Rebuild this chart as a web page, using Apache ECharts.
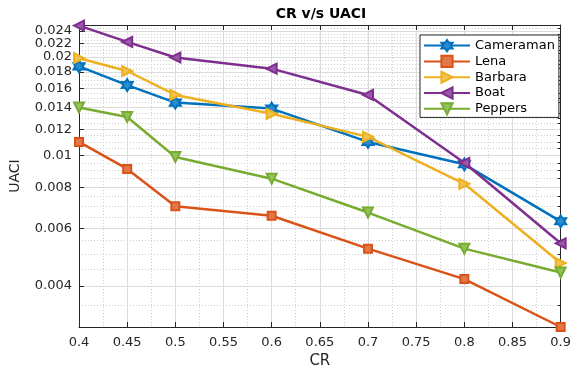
<!DOCTYPE html>
<html>
<head>
<meta charset="utf-8">
<title>CR v/s UACI</title>
<script src="https://cdn.jsdelivr.net/npm/echarts@6/dist/echarts.min.js"></script>
<style>
  html, body { margin: 0; padding: 0; background: #fff; }
  #chart { width: 574px; height: 374px; }
</style>
</head>
<body>
<div id="chart"></div>
<script>
// Compression ratio on the x axis
const crValues = [0.4, 0.45, 0.5, 0.6, 0.7, 0.8, 0.9];

// UACI per test image
const cameraman = [0.0187, 0.0164, 0.0145, 0.0139, 0.0110, 0.0094, 0.0063];
const lena      = [0.0110, 0.0091, 0.0070, 0.00655, 0.0052, 0.0042, 0.0030];
const barbara   = [0.0198, 0.0181, 0.0153, 0.0134, 0.0114, 0.0082, 0.0047];
const boat      = [0.0249, 0.0222, 0.0199, 0.0184, 0.0153, 0.0095, 0.0054];
const peppers   = [0.0140, 0.0131, 0.0099, 0.0085, 0.0067, 0.0052, 0.0044];

const seriesNames = ['Cameraman', 'Lena', 'Barbara', 'Boat', 'Peppers'];

// Labelled ticks on the logarithmic UACI axis
const yMajorTicks = [0.004, 0.006, 0.008, 0.01, 0.012, 0.014, 0.016, 0.018, 0.02, 0.022, 0.024];
// Dotted minor grid values
const yMinorTicks = [0.0035, 0.0045, 0.005, 0.0055, 0.0065, 0.007, 0.0075, 0.0085, 0.009, 0.0095,
  0.0105, 0.011, 0.0115, 0.0125, 0.013, 0.0135, 0.0145, 0.015, 0.0155, 0.0165, 0.017, 0.0175,
  0.0185, 0.019, 0.0195, 0.0205, 0.021, 0.0215, 0.0225, 0.023, 0.0235, 0.0245];

const colors = ['#0072BD', '#D95319', '#EDB120', '#7E2F8E', '#77AC30'];
const hexagram = 'path://M0,-10L2.887,-5L8.66,-5L5.774,0L8.66,5L2.887,5L0,10L-2.887,5L-8.66,5L-5.774,0L-8.66,-5L-2.887,-5Z';
const markers = [
  { symbol: hexagram, size: [11, 12], rotate: 0 },
  { symbol: 'rect', size: 8, rotate: 0 },
  { symbol: 'triangle', size: 10, rotate: -90 },
  { symbol: 'triangle', size: 10, rotate: 90 },
  { symbol: 'triangle', size: 10, rotate: 180 }
];
const fills = ['#2f8ccc', '#e2784a', '#f1c24f', '#9a58a8', '#92c25a'];
const seriesData = [cameraman, lena, barbara, boat, peppers];

const FONT = 'DejaVu Sans';
const INK = '#262626';

const chart = echarts.init(document.getElementById('chart'), null, { renderer: 'canvas' });

const yRange = { min: 0.003, max: 0.025 };
// The axis top also gets a (blank) label slot so the closely spaced
// 0.022 / 0.024 labels are both kept by the min/max label check.
const yLabelValues = yMajorTicks.concat([yRange.max]);

const option = {
  animation: false,
  backgroundColor: '#ffffff',
  color: colors,
  graphic: [{
    type: 'text',
    x: 321,
    y: 14,
    style: {
      text: 'CR v/s UACI',
      font: 'bold 14px "DejaVu Sans"',
      fill: '#000',
      align: 'center',
      verticalAlign: 'middle'
    }
  }],
  grid: { left: 77, right: 9, top: 25, bottom: 45, show: false },
  legend: {
    orient: 'vertical',
    left: 420,
    top: 35,
    padding: [4, 4, 2, 3],
    itemGap: 2.6,
    itemWidth: 46,
    itemHeight: 14,
    backgroundColor: '#ffffff',
    borderColor: INK,
    borderWidth: 1,
    borderRadius: 0,
    textStyle: { fontFamily: FONT, fontSize: 13, color: '#000' },
    data: seriesNames
  },
  xAxis: [{
    type: 'value',
    min: 0.4,
    max: 0.9,
    interval: 0.05,
    name: 'CR',
    nameLocation: 'middle',
    nameGap: 27,
    nameTextStyle: { fontFamily: FONT, fontSize: 15, color: INK },
    axisLine: { show: true, lineStyle: { color: INK, width: 1 } },
    axisTick: { show: true, inside: true, length: 5, lineStyle: { color: INK } },
    axisLabel: { fontFamily: FONT, fontSize: 13, color: INK, margin: 9 },
    splitLine: { show: true, lineStyle: { color: '#dcdcdc', width: 1 } },
    minorTick: { show: false, splitNumber: 2 },
    minorSplitLine: { show: true, lineStyle: { color: '#cfcfcf', type: [1, 2], width: 1 } }
  }, {
    type: 'value',
    position: 'top',
    min: 0.4,
    max: 0.9,
    interval: 0.05,
    axisLine: { show: true, lineStyle: { color: INK, width: 1 } },
    axisTick: { show: true, inside: true, length: 5, lineStyle: { color: INK } },
    axisLabel: { show: false },
    splitLine: { show: false }
  }],
  yAxis: [{
    type: 'log',
    logBase: 10,
    min: yRange.min,
    max: yRange.max,
    name: 'UACI',
    nameLocation: 'middle',
    nameGap: 57,
    nameTextStyle: { fontFamily: FONT, fontSize: 14, color: INK },
    axisLine: { show: true, lineStyle: { color: INK, width: 1 } },
    axisTick: { show: true, inside: true, length: 5, lineStyle: { color: INK }, customValues: yMajorTicks },
    axisLabel: {
      fontFamily: FONT, fontSize: 13, color: INK, margin: 7,
      lineHeight: 10,
      hideOverlap: false,
      customValues: yLabelValues,
      formatter: v => (Math.abs(v - yRange.max) < 1e-9 ? '' : String(+v.toPrecision(3)))
    },
    splitLine: { show: true, lineStyle: { color: '#dcdcdc', width: 1 } }
  }, {
    type: 'log',
    logBase: 10,
    position: 'right',
    min: yRange.min,
    max: yRange.max,
    axisLine: { show: true, lineStyle: { color: INK, width: 1 } },
    axisTick: { show: true, inside: true, length: 3, lineStyle: { color: INK }, customValues: yMinorTicks },
    axisLabel: { show: false, customValues: yMinorTicks },
    splitLine: { show: true, lineStyle: { color: '#cfcfcf', type: [1, 2], width: 1 } }
  }],
  series: seriesNames.map((name, i) => ({
    name: name,
    type: 'line',
    xAxisIndex: 0,
    yAxisIndex: 0,
    data: crValues.map((cr, k) => [cr, seriesData[i][k]]),
    clip: false,
    symbol: markers[i].symbol,
    symbolSize: markers[i].size,
    symbolRotate: markers[i].rotate,
    showAllSymbol: true,
    lineStyle: { width: 2.5, color: colors[i] },
    itemStyle: { color: fills[i], borderColor: colors[i], borderWidth: 2 },
    emphasis: { disabled: true },
    z: 3 + i
  }))
};

chart.setOption(option);
</script>
</body>
</html>
